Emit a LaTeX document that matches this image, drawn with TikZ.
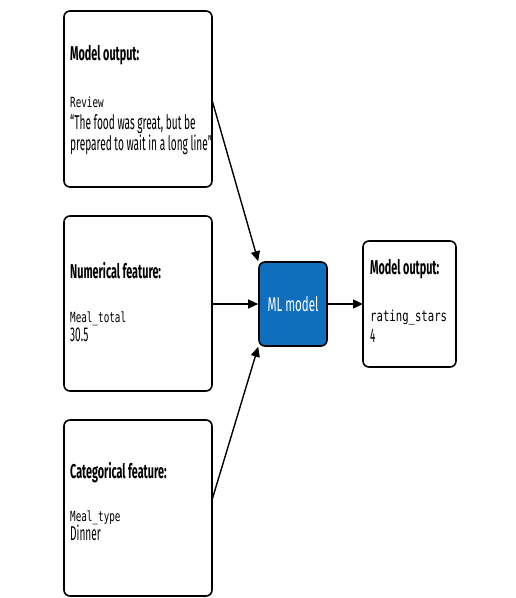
\documentclass[tikz,border=0pt]{standalone}
\usepackage{fontspec}
\setmainfont{Fira Sans}[FakeStretch=0.505, BoldFeatures={FakeStretch=0.54}]
\setmonofont{DejaVu Sans Mono}[FakeStretch=0.664]
\newfontfamily\mlfont{Fira Sans}[FakeStretch=0.576]
\newfontfamily\outmono{DejaVu Sans Mono}[FakeStretch=0.71]
\usetikzlibrary{arrows.meta}
\definecolor{mlblue}{RGB}{16,110,190}
\tikzset{
  box/.style={draw=black, line width=1.6pt, rounded corners=6pt, fill=white},
  head/.style={anchor=base west, font=\bfseries\fontsize{20}{20}\selectfont, inner sep=0pt},
  mono/.style={anchor=base west, font=\ttfamily\fontsize{14}{14}\selectfont, inner sep=0pt},
  body/.style={anchor=base west, font=\fontsize{20}{20}\selectfont, inner sep=0pt},
  conn/.style={line width=1.4pt, -{Triangle[length=10pt,width=9pt]}},
}
\begin{document}
\begin{tikzpicture}[x=1pt,y=-1pt]
\useasboundingbox (0,0) rectangle (516,598);
% boxes
\draw[box] (64,11) rectangle (212,187);
\draw[box] (64,216) rectangle (212,391);
\draw[box] (64,420) rectangle (212,596);
\draw[box] (363,241) rectangle (456,367);
\node[draw=black, line width=1.6pt, rounded corners=6pt, fill=mlblue, minimum width=68pt, minimum height=84pt, inner sep=0pt, text=white, font=\mlfont\fontsize{20}{20}\selectfont] (ml) at (293,304) {ML model};
\coordinate (b1) at (212,100);
\coordinate (b2) at (212,304);
\coordinate (b3) at (212,500);
\coordinate (o) at (363,304);
% texts
\node[head] (h1) at (70,60) {Model output:};
\node[mono] (m1) at (70,107) {Review};
\node[body] (t1a) at (70,129) {“The food was great, but be};
\node[body] (t1b) at (70,150) {prepared to wait in a long line”};
\node[head] (h2) at (70,278) {Numerical feature:};
\node[mono] (m2) at (70,322) {Meal\_total};
\node[body] (t2) at (70,341) {30.5};
\node[head] (h3) at (70,478) {Categorical feature:};
\node[mono] (m3) at (70,521) {Meal\_type};
\node[body] (t3) at (70,540) {Dinner};
\node[head] (h4) at (370,274) {Model output:};
\node[mono, font=\outmono\fontsize{15}{15}\selectfont] (m4) at (370,321) {rating\_stars};
\node[body] (t4) at (370,342) {4};
% connectors
\draw[conn] (b1) -- (ml.north west);
\draw[conn] (b2) -- (ml.west);
\draw[conn] (b3) -- (ml.south west);
\draw[conn] (ml.east) -- (o);
\end{tikzpicture}
\end{document}
